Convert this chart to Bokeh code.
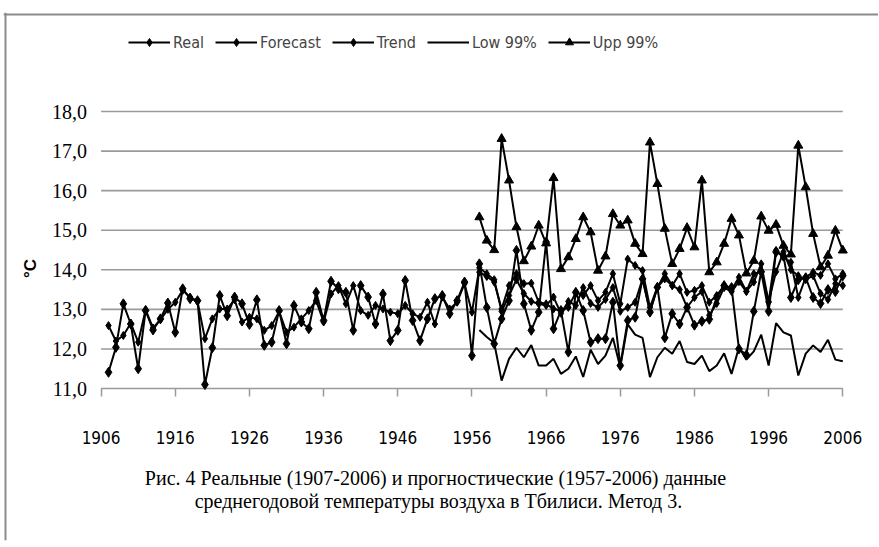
import math
from bokeh.plotting import figure
from bokeh.models import FixedTicker, Legend, LegendItem, Label, Span
from bokeh.embed import file_html
from bokeh.resources import INLINE

# ---------------- data ----------------
years = list(range(1907, 2007))
real = [11.41, 12.04, 13.14, 12.63, 11.50, 12.97, 12.48, 12.76, 13.16, 12.42,
        13.52, 13.27, 13.22, 11.10, 12.03, 13.35, 12.84, 13.31, 13.14, 12.62,
        13.24, 12.09, 12.17, 12.97, 12.13, 13.10, 12.68, 12.51, 13.43, 12.72,
        13.71, 13.52, 13.43, 12.47, 13.60, 13.31, 12.63, 13.39, 12.21, 12.47,
        13.73, 12.72, 12.21, 12.76, 13.27, 13.35, 12.89, 13.22, 13.69, 11.83,
        14.15, 13.05, 12.13, 12.76, 13.22, 14.49, 13.14, 12.47, 12.93, 14.70,
        12.51, 12.97, 11.92, 13.43, 12.97, 12.17, 12.26, 12.26, 13.18, 11.58,
        12.72, 12.80, 13.77, 12.93, 13.56, 12.28, 12.89, 12.63, 13.05, 12.60,
        12.70, 12.75, 13.30, 13.60, 13.55, 12.00, 11.85, 12.95, 13.95, 12.95,
        14.45, 14.35, 13.30, 13.75, 13.80, 13.30, 13.15, 13.50, 13.45, 13.85]
forecast = [12.59, 12.20, 12.34, 12.65, 12.17, 12.99, 12.53, 12.74, 13.00, 13.18,
            13.48, 13.31, 13.20, 12.26, 12.76, 13.01, 13.01, 13.24, 12.68, 12.80,
            12.76, 12.47, 12.59, 12.95, 12.42, 12.55, 12.76, 12.97, 13.22, 12.68,
            13.39, 13.60, 13.14, 13.60, 12.97, 12.85, 13.10, 13.01, 12.93, 12.89,
            13.10, 12.89, 12.80, 13.18, 12.63, 13.31, 13.01, 13.18, 13.65, 12.93,
            14.05, 13.90, 13.75, 12.95, 13.35, 13.75, 13.40, 13.20, 13.14, 13.10,
            13.31, 12.90, 13.20, 13.10, 13.55, 13.15, 13.05, 13.25, 13.55, 12.95,
            13.05, 13.18, 13.77, 12.95, 13.55, 13.90, 13.60, 13.50, 13.05, 13.30,
            13.45, 12.85, 13.15, 13.55, 13.45, 13.70, 13.45, 13.90, 13.95, 13.20,
            13.95, 14.45, 14.00, 13.85, 13.75, 13.85, 13.40, 13.25, 13.65, 13.60]
trend_years = list(range(1957, 2007))
trend = [13.94, 13.83, 13.69, 13.01, 13.60, 13.90, 13.65, 13.66, 13.18, 13.14,
         13.01, 12.97, 13.05, 13.43, 13.35, 13.60, 13.22, 13.43, 13.90, 13.14,
         14.27, 14.11, 13.98, 13.05, 13.56, 13.77, 13.60, 13.90, 13.43, 13.48,
         13.60, 13.18, 13.35, 13.60, 13.49, 13.81, 13.46, 13.69, 14.15, 13.18,
         14.49, 14.32, 14.19, 13.30, 13.81, 13.94, 13.86, 14.15, 13.77, 13.90]
low99 = [12.48, 12.30, 12.15, 11.20, 11.75, 12.03, 11.79, 12.10, 11.58, 11.58,
         11.75, 11.37, 11.50, 11.81, 11.29, 11.98, 11.62, 11.83, 12.28, 11.54,
         12.62, 12.36, 12.28, 11.29, 11.79, 12.03, 11.88, 12.20, 11.67, 11.62,
         11.83, 11.44, 11.58, 11.89, 11.37, 12.04, 11.73, 11.94, 12.36, 11.58,
         12.65, 12.42, 12.34, 11.33, 11.88, 12.09, 11.92, 12.23, 11.73, 11.69]
upp99 = [15.33, 14.74, 14.50, 17.31, 16.26, 15.08, 14.22, 14.59, 15.12, 14.67,
         16.32, 14.02, 14.32, 14.78, 15.33, 14.95, 13.98, 14.34, 15.41, 15.12,
         15.25, 14.66, 14.40, 17.22, 16.17, 15.04, 14.15, 14.53, 15.06, 14.57,
         16.26, 13.94, 14.19, 14.66, 15.29, 14.87, 13.91, 14.23, 15.35, 14.99,
         15.14, 14.61, 14.39, 17.14, 16.09, 14.91, 14.07, 14.36, 14.99, 14.49]

x_ticks = list(range(1906, 2007, 10))
y_ticks = [11, 12, 13, 14, 15, 16, 17, 18]
y_tick_labels = ["11,0", "12,0", "13,0", "14,0", "15,0", "16,0", "17,0", "18,0"]
legend_labels = ["Real", "Forecast", "Trend", "Low 99%", "Upp 99%"]
y_title = "°C"
caption = ["Рис. 4  Реальные (1907-2006) и прогностические  (1957-2006) данные",
           "среднегодовой температуры воздуха в Тбилиси. Метод 3."]

SANS_NARROW = "'Liberation Sans Narrow', 'DejaVu Sans Condensed', 'Liberation Sans'"
SERIF = "'Liberation Serif'"
GRID = "#9a9a9a"
BORDER = "#8c8c8c"

# The frame covers almost the whole figure (page x 3..878, y 12..540) so that
# legend, caption and both axes (pinned with fixed_location) are drawn inside it.
FB = 540  # frame bottom, page px
FL = 3    # frame left, page px
p = figure(width=878, height=546, x_range=(1892.841, 2010.813), y_range=(7.159, 20.502),
           output_backend="svg", toolbar_location=None,
           min_border_left=FL, min_border_right=0, min_border_top=12, min_border_bottom=546 - FB)
p.outline_line_color = None
p.xgrid.visible = False
p.ygrid.visible = False

# picture border (top and left), as in the source image
p.add_layout(Span(location=FB - 14, location_units="screen", dimension="width",
                  line_color=BORDER, line_width=2))
p.add_layout(Span(location=2, location_units="screen", dimension="height",
                  line_color=BORDER, line_width=2))

# horizontal gridlines between first and last category tick
p.segment(x0=x_ticks[0], x1=x_ticks[-1], y0=y_ticks, y1=y_ticks,
          line_color=GRID, line_width=1.6)

xa = p.xaxis[0]
xa.fixed_location = y_ticks[0]
xa.ticker = FixedTicker(ticks=x_ticks)
xa.axis_line_color = None
xa.major_tick_line_color = GRID
xa.major_tick_line_width = 1.5
xa.major_tick_out = 8
xa.major_tick_in = 0
xa.minor_tick_line_color = None
xa.major_label_text_font = SANS_NARROW
xa.major_label_text_font_size = "17px"
xa.major_label_text_color = "black"
xa.major_label_standoff = 34

ya = p.yaxis[0]
ya.fixed_location = x_ticks[0]
ya.ticker = FixedTicker(ticks=y_ticks)
ya.major_label_overrides = {float(t): s for t, s in zip(y_ticks, y_tick_labels)}
ya.axis_line_color = None
ya.major_tick_line_color = None
ya.minor_tick_line_color = None
ya.major_tick_out = 0
ya.major_label_standoff = 14
ya.major_label_text_font = SERIF
ya.major_label_text_font_size = "20px"
ya.major_label_text_color = "black"

p.add_layout(Label(x=30 - FL, y=FB - 268, x_units="screen", y_units="screen", text=y_title,
                   angle=math.pi / 2, text_align="center", text_baseline="middle",
                   text_font="'Liberation Sans'", text_font_style="bold",
                   text_font_size="17px", text_color="black"))

LW = 2
r_real_l = p.line(years, real, line_color="black", line_width=LW)
r_real_m = p.scatter(years, real, marker="diamond", size=10, color="black")
r_fc_l = p.line(years, forecast, line_color="black", line_width=LW)
r_fc_m = p.scatter(years, forecast, marker="diamond", size=8, color="black")
r_tr_l = p.line(trend_years, trend, line_color="black", line_width=LW)
r_tr_m = p.scatter(trend_years, trend, marker="diamond", size=8, color="black")
r_low = p.line(trend_years, low99, line_color="black", line_width=LW)
r_up_l = p.line(trend_years, upp99, line_color="black", line_width=LW)
r_up_m = p.scatter(trend_years, upp99, marker="triangle", size=9, color="black")

items = [LegendItem(label=legend_labels[0], renderers=[r_real_l, r_real_m]),
         LegendItem(label=legend_labels[1], renderers=[r_fc_l, r_fc_m]),
         LegendItem(label=legend_labels[2], renderers=[r_tr_l, r_tr_m]),
         LegendItem(label=legend_labels[3], renderers=[r_low]),
         LegendItem(label=legend_labels[4], renderers=[r_up_l, r_up_m])]
legend = Legend(items=items, orientation="horizontal", location=(128 - FL, FB - 52),
                border_line_color=None, background_fill_alpha=0,
                label_text_font=SANS_NARROW, label_text_font_size="16px",
                glyph_width=42, glyph_height=20, label_standoff=3, spacing=11,
                padding=0, margin=0)
p.add_layout(legend)

p.add_layout(Label(x=440 - FL, y=FB - 477, x_units="screen", y_units="screen", text=caption[0],
                   text_align="center", text_baseline="middle",
                   text_font=SERIF, text_font_size="20px", text_color="black"))
p.add_layout(Label(x=438 - FL, y=FB - 500, x_units="screen", y_units="screen", text=caption[1],
                   text_align="center", text_baseline="middle",
                   text_font=SERIF, text_font_size="20px", text_color="black"))

open("out.html", "w").write(file_html(p, INLINE))
